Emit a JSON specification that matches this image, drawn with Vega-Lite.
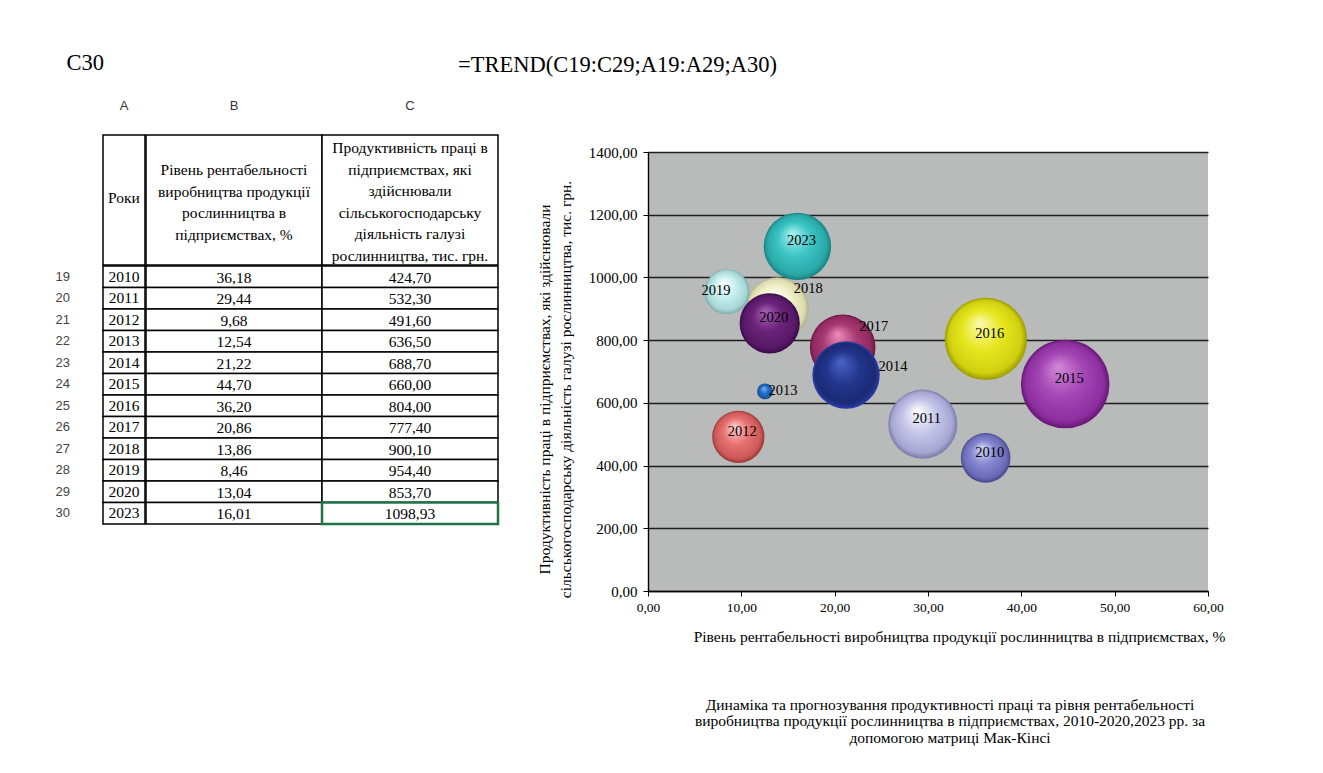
{
  "$schema": "https://vega.github.io/schema/vega-lite/v6.json",
  "padding": {"left": 55, "top": 51, "right": 10, "bottom": 10},
  "background": "white",
  "title": {
    "text": "=TREND(C19:C29;A19:A29;A30)",
    "anchor": "start", "frame": "bounds", "dx": 403, "offset": -36, "baseline": "middle",
    "font": "Liberation Serif", "fontSize": 22.5, "fontWeight": "normal", "color": "#000"
  },
  "config": {
    "view": {"stroke": null},
    "locale": {"number": {"decimal": ",", "thousands": " ", "grouping": [3], "currency": ["", ""]}},
    "text": {"font": "Liberation Serif", "color": "#000"}
  },
  "datasets": {
    "d": [
      {"year": "2010", "rent": 36.18, "prod": 424.70, "v": 31.4, "row": 19},
      {"year": "2011", "rent": 29.44, "prod": 532.30, "v": 60.8, "row": 20},
      {"year": "2012", "rent": 9.68, "prod": 491.60, "v": 34.8, "row": 21},
      {"year": "2013", "rent": 12.54, "prod": 636.50, "v": 3.2, "row": 22},
      {"year": "2014", "rent": 21.22, "prod": 688.70, "v": 57.8, "row": 23},
      {"year": "2015", "rent": 44.70, "prod": 660.00, "v": 100, "row": 24},
      {"year": "2016", "rent": 36.20, "prod": 804.00, "v": 86.5, "row": 25},
      {"year": "2017", "rent": 20.86, "prod": 777.40, "v": 54.8, "row": 26},
      {"year": "2018", "rent": 13.86, "prod": 900.10, "v": 50.4, "row": 27},
      {"year": "2019", "rent": 8.46, "prod": 954.40, "v": 26, "row": 28},
      {"year": "2020", "rent": 13.04, "prod": 853.70, "v": 46.2, "row": 29},
      {"year": "2023", "rent": 16.01, "prod": 1098.93, "v": 57.8, "row": 30}
    ]
  },
  "hconcat": [
    {
      "vconcat": [
        {
          "hconcat": [
            {
              "width": 42, "height": 130,
              "data": {"values": [{"col": "A", "t": "Роки"}]},
              "encoding": {
                "x": {"field": "col", "type": "nominal", "scale": {"paddingInner": 0, "paddingOuter": 0},
                  "axis": {"orient": "top", "domain": false, "ticks": false, "labelAngle": 0, "labelPadding": 23,
                    "labelFont": "Liberation Sans", "labelFontSize": 13, "labelColor": "#333",
                    "title": "C30", "titleX": -37, "titleY": -73, "titleAlign": "left", "titleBaseline": "middle", "titleAngle": 0,
                    "titleFont": "Liberation Serif", "titleFontSize": 22.5, "titleFontWeight": "normal", "titleColor": "#000"}}
              },
              "layer": [
                {"mark": {"type": "rect", "fill": "white", "stroke": "#000", "strokeWidth": 1.5}},
                {"mark": {"type": "text", "fontSize": 15.5, "dy": -2}, "encoding": {"text": {"field": "t"}}}
              ]
            },
            {
              "width": 352, "height": 130,
              "data": {"values": [
                {"col": "B", "t": "Рівень рентабельності\nвиробництва продукції\nрослинництва в\nпідприємствах, %"},
                {"col": "C", "t": "Продуктивність праці в\nпідприємствах, які\nздійснювали\nсільськогосподарську\nдіяльність галузі\nрослинництва, тис. грн."}
              ]},
              "encoding": {
                "x": {"field": "col", "type": "nominal", "scale": {"domain": ["B", "C"], "paddingInner": 0, "paddingOuter": 0},
                  "axis": {"orient": "top", "domain": false, "ticks": false, "labelAngle": 0, "labelPadding": 23,
                    "labelFont": "Liberation Sans", "labelFontSize": 13, "labelColor": "#333", "title": null}}
              },
              "layer": [
                {"mark": {"type": "rect", "fill": "white", "stroke": "#000", "strokeWidth": 1.5}},
                {"transform": [{"filter": "datum.col === 'B'"}],
                 "mark": {"type": "text", "fontSize": 15.5, "lineBreak": "\n", "lineHeight": 21.5, "dy": -30}, "encoding": {"text": {"field": "t"}}},
                {"transform": [{"filter": "datum.col === 'C'"}],
                 "mark": {"type": "text", "fontSize": 15.5, "lineBreak": "\n", "lineHeight": 21.5, "dy": -52}, "encoding": {"text": {"field": "t"}}}
              ]
            }
          ],
          "spacing": -1.5
        },
        {
          "hconcat": [
            {
              "width": 42, "height": 258,
              "data": {"name": "d"},
              "encoding": {
                "y": {"field": "row", "type": "ordinal", "scale": {"paddingInner": 0, "paddingOuter": 0},
                  "axis": {"domain": false, "ticks": false, "labelPadding": 48, "labelAlign": "left", "labelFont": "Liberation Sans", "labelFontSize": 13, "labelColor": "#444", "title": null}}
              },
              "layer": [
                {"mark": {"type": "rect", "fill": "white", "stroke": "#000", "strokeWidth": 1.5}},
                {"mark": {"type": "text", "fontSize": 15.5, "dy": 0}, "encoding": {"text": {"field": "year"}}}
              ]
            },
            {
              "width": 352, "height": 258,
              "data": {"name": "d"},
              "transform": [{"fold": ["rent", "prod"], "as": ["key", "value"]}],
              "encoding": {
                "x": {"field": "key", "type": "nominal", "scale": {"domain": ["rent", "prod"], "paddingInner": 0, "paddingOuter": 0}, "axis": null},
                "y": {"field": "row", "type": "ordinal", "scale": {"paddingInner": 0, "paddingOuter": 0}, "axis": null}
              },
              "layer": [
                {"mark": {"type": "rect", "fill": "white", "stroke": "#000", "strokeWidth": 1.5}},
                {"transform": [{"filter": "datum.row === 30 && datum.key === 'prod'"}],
                 "mark": {"type": "rect", "fill": "white", "stroke": "#217346", "strokeWidth": 2.5}},
                {"mark": {"type": "text", "fontSize": 15.5, "dy": 1}, "encoding": {"text": {"field": "value", "type": "quantitative", "format": ".2f"}}}
              ]
            }
          ],
          "spacing": -1.5
        }
      ],
      "spacing": -1.5
    },
    {
      "vconcat": [
        {
          "width": 560, "height": 1,
          "data": {"values": [{"a": 1}]},
          "mark": {"type": "text", "text": ""},
          "encoding": {}
        },
        {
          "width": 560, "height": 439,
          "view": {"fill": "#b9bbbb", "stroke": null},
          "data": {"name": "d"},
          "title": {
            "text": ["Динаміка та прогнозування продуктивності праці та рівня рентабельності", "виробництва продукції рослинництва  в підприємствах, 2010-2020,2023 рр. за", "допомогою матриці Мак-Кінсі"],
            "orient": "bottom", "anchor": "middle", "dx": 22, "offset": 53,
            "font": "Liberation Serif", "fontSize": 15.5, "fontWeight": "normal", "color": "#000", "lineHeight": 16.5
          },
          "encoding": {
            "x": {"field": "rent", "type": "quantitative", "scale": {"domain": [0, 60], "nice": false},
              "axis": {"values": [0, 10, 20, 30, 40, 50, 60], "format": ".2f", "grid": false,
                "domainColor": "#000", "domainWidth": 1.3, "tickColor": "#000", "tickSize": 5,
                "labelFont": "Liberation Serif", "labelFontSize": 13.5, "labelColor": "#000", "labelPadding": 4, "labelFlush": false,
                "title": "Рівень рентабельності виробництва продукції рослинництва в підприємствах, %",
                "titleFont": "Liberation Serif", "titleFontSize": 15.5, "titleFontWeight": "normal", "titleColor": "#000",
                "titleX": 311, "titleY": 45, "titleBaseline": "middle", "titleAlign": "center"}},
            "y": {"field": "prod", "type": "quantitative", "scale": {"domain": [0, 1400], "nice": false},
              "axis": {"values": [0, 200, 400, 600, 800, 1000, 1200, 1400], "format": ".2f", "grid": true,
                "gridColor": "#1e1e1e", "gridWidth": 1.4, "domainColor": "#000", "domainWidth": 1.4, "tickColor": "#000", "tickSize": 5,
                "labelFont": "Liberation Serif", "labelFontSize": 15, "labelColor": "#000", "labelPadding": 6,
                "title": ["Продуктивність праці в підприємствах, які здійснювали", "сільськогосподарську діяльність галузі рослинництва, тис. грн."],
                "titleFont": "Liberation Serif", "titleFontSize": 15.5, "titleFontWeight": "normal", "titleColor": "#000",
                "titleLineHeight": 21, "titleX": -96, "titleY": 237, "titleAngle": -90, "titleAlign": "center", "titleBaseline": "bottom"}}
          },
          "layer": [
            {"transform": [{"filter": "datum.year === '2010'"}],
             "mark": {"type": "circle", "opacity": 1, "strokeWidth": 0, "fill": {"gradient": "radial", "x1": 0.42, "y1": 0.3, "r1": 0, "x2": 0.5, "y2": 0.5, "r2": 0.5, "stops": [{"offset": 0, "color": "#d8d8f8"}, {"offset": 0.5, "color": "#8585d0"}, {"offset": 0.88, "color": "#6a6ab4"}, {"offset": 1, "color": "#45458a"}]}},
             "encoding": {"size": {"field": "v", "type": "quantitative", "scale": {"type": "linear", "domain": [0, 100], "range": [0, 7854], "zero": true}, "legend": null}}},
            {"transform": [{"filter": "datum.year === '2011'"}],
             "mark": {"type": "circle", "opacity": 1, "strokeWidth": 0, "fill": {"gradient": "radial", "x1": 0.42, "y1": 0.3, "r1": 0, "x2": 0.5, "y2": 0.5, "r2": 0.5, "stops": [{"offset": 0, "color": "#ffffff"}, {"offset": 0.5, "color": "#c4c4ea"}, {"offset": 0.88, "color": "#a6a6d2"}, {"offset": 1, "color": "#7a7aa8"}]}},
             "encoding": {"size": {"field": "v", "type": "quantitative", "scale": {"type": "linear", "domain": [0, 100], "range": [0, 7854], "zero": true}, "legend": null}}},
            {"transform": [{"filter": "datum.year === '2012'"}],
             "mark": {"type": "circle", "opacity": 1, "strokeWidth": 0, "fill": {"gradient": "radial", "x1": 0.42, "y1": 0.3, "r1": 0, "x2": 0.5, "y2": 0.5, "r2": 0.5, "stops": [{"offset": 0, "color": "#ffd0d0"}, {"offset": 0.5, "color": "#e87272"}, {"offset": 0.88, "color": "#cc5858"}, {"offset": 1, "color": "#983434"}]}},
             "encoding": {"size": {"field": "v", "type": "quantitative", "scale": {"type": "linear", "domain": [0, 100], "range": [0, 7854], "zero": true}, "legend": null}}},
            {"transform": [{"filter": "datum.year === '2013'"}],
             "mark": {"type": "circle", "opacity": 1, "strokeWidth": 0, "fill": {"gradient": "radial", "x1": 0.42, "y1": 0.3, "r1": 0, "x2": 0.5, "y2": 0.5, "r2": 0.5, "stops": [{"offset": 0, "color": "#7fb8f0"}, {"offset": 0.5, "color": "#1f6fc6"}, {"offset": 0.88, "color": "#185aa4"}, {"offset": 1, "color": "#0d3d80"}]}},
             "encoding": {"size": {"field": "v", "type": "quantitative", "scale": {"type": "linear", "domain": [0, 100], "range": [0, 7854], "zero": true}, "legend": null}}},
            {"transform": [{"filter": "datum.year === '2016'"}],
             "mark": {"type": "circle", "opacity": 1, "strokeWidth": 0, "fill": {"gradient": "radial", "x1": 0.42, "y1": 0.3, "r1": 0, "x2": 0.5, "y2": 0.5, "r2": 0.5, "stops": [{"offset": 0, "color": "#fbfbb0"}, {"offset": 0.5, "color": "#e6e61e"}, {"offset": 0.88, "color": "#d0d010"}, {"offset": 1, "color": "#9a9a00"}]}},
             "encoding": {"size": {"field": "v", "type": "quantitative", "scale": {"type": "linear", "domain": [0, 100], "range": [0, 7854], "zero": true}, "legend": null}}},
            {"transform": [{"filter": "datum.year === '2015'"}],
             "mark": {"type": "circle", "opacity": 1, "strokeWidth": 0, "fill": {"gradient": "radial", "x1": 0.42, "y1": 0.3, "r1": 0, "x2": 0.5, "y2": 0.5, "r2": 0.5, "stops": [{"offset": 0, "color": "#d28ad8"}, {"offset": 0.5, "color": "#a446b4"}, {"offset": 0.88, "color": "#8e2ea0"}, {"offset": 1, "color": "#661874"}]}},
             "encoding": {"size": {"field": "v", "type": "quantitative", "scale": {"type": "linear", "domain": [0, 100], "range": [0, 7854], "zero": true}, "legend": null}}},
            {"transform": [{"filter": "datum.year === '2017'"}],
             "mark": {"type": "circle", "opacity": 1, "strokeWidth": 0, "fill": {"gradient": "radial", "x1": 0.42, "y1": 0.3, "r1": 0, "x2": 0.5, "y2": 0.5, "r2": 0.5, "stops": [{"offset": 0, "color": "#f08cbc"}, {"offset": 0.5, "color": "#a83a74"}, {"offset": 0.88, "color": "#922a60"}, {"offset": 1, "color": "#661844"}]}},
             "encoding": {"size": {"field": "v", "type": "quantitative", "scale": {"type": "linear", "domain": [0, 100], "range": [0, 7854], "zero": true}, "legend": null}}},
            {"transform": [{"filter": "datum.year === '2014'"}],
             "mark": {"type": "circle", "opacity": 1, "strokeWidth": 0, "fill": {"gradient": "radial", "x1": 0.42, "y1": 0.3, "r1": 0, "x2": 0.5, "y2": 0.5, "r2": 0.5, "stops": [{"offset": 0, "color": "#4a64c4"}, {"offset": 0.5, "color": "#22358c"}, {"offset": 0.88, "color": "#1a2a74"}, {"offset": 1, "color": "#2a3caa"}]}},
             "encoding": {"size": {"field": "v", "type": "quantitative", "scale": {"type": "linear", "domain": [0, 100], "range": [0, 7854], "zero": true}, "legend": null}}},
            {"transform": [{"filter": "datum.year === '2018'"}],
             "mark": {"type": "circle", "opacity": 1, "strokeWidth": 0, "fill": {"gradient": "radial", "x1": 0.42, "y1": 0.3, "r1": 0, "x2": 0.5, "y2": 0.5, "r2": 0.5, "stops": [{"offset": 0, "color": "#ffffff"}, {"offset": 0.5, "color": "#f2f2cc"}, {"offset": 0.88, "color": "#dcdcb0"}, {"offset": 1, "color": "#b0b088"}]}},
             "encoding": {"size": {"field": "v", "type": "quantitative", "scale": {"type": "linear", "domain": [0, 100], "range": [0, 7854], "zero": true}, "legend": null}}},
            {"transform": [{"filter": "datum.year === '2019'"}],
             "mark": {"type": "circle", "opacity": 1, "strokeWidth": 0, "fill": {"gradient": "radial", "x1": 0.42, "y1": 0.3, "r1": 0, "x2": 0.5, "y2": 0.5, "r2": 0.5, "stops": [{"offset": 0, "color": "#ffffff"}, {"offset": 0.5, "color": "#c6eeee"}, {"offset": 0.88, "color": "#a6d4d4"}, {"offset": 1, "color": "#7aaaaa"}]}},
             "encoding": {"size": {"field": "v", "type": "quantitative", "scale": {"type": "linear", "domain": [0, 100], "range": [0, 7854], "zero": true}, "legend": null}}},
            {"transform": [{"filter": "datum.year === '2020'"}],
             "mark": {"type": "circle", "opacity": 1, "strokeWidth": 0, "fill": {"gradient": "radial", "x1": 0.42, "y1": 0.3, "r1": 0, "x2": 0.5, "y2": 0.5, "r2": 0.5, "stops": [{"offset": 0, "color": "#a860b8"}, {"offset": 0.5, "color": "#6a2278"}, {"offset": 0.88, "color": "#561866"}, {"offset": 1, "color": "#380a44"}]}},
             "encoding": {"size": {"field": "v", "type": "quantitative", "scale": {"type": "linear", "domain": [0, 100], "range": [0, 7854], "zero": true}, "legend": null}}},
            {"transform": [{"filter": "datum.year === '2023'"}],
             "mark": {"type": "circle", "opacity": 1, "strokeWidth": 0, "fill": {"gradient": "radial", "x1": 0.42, "y1": 0.3, "r1": 0, "x2": 0.5, "y2": 0.5, "r2": 0.5, "stops": [{"offset": 0, "color": "#a8f0f0"}, {"offset": 0.5, "color": "#3cc4c4"}, {"offset": 0.88, "color": "#2aa8a8"}, {"offset": 1, "color": "#188080"}]}},
             "encoding": {"size": {"field": "v", "type": "quantitative", "scale": {"type": "linear", "domain": [0, 100], "range": [0, 7854], "zero": true}, "legend": null}}},
            {
              "transform": [{"filter": "indexof(['2010','2011','2012','2015','2016','2020','2023'], datum.year) >= 0"}],
              "mark": {"type": "text", "fontSize": 14.5, "dx": 4, "dy": -5},
              "encoding": {"text": {"field": "year"}}
            },
            {
              "transform": [{"filter": "datum.year === '2019'"}],
              "mark": {"type": "text", "fontSize": 14.5, "dx": -11, "dy": -1},
              "encoding": {"text": {"field": "year"}}
            },
            {
              "transform": [{"filter": "datum.year === '2017' || datum.year === '2018'"}],
              "mark": {"type": "text", "fontSize": 14.5, "dx": 31, "dy": -20},
              "encoding": {"text": {"field": "year"}}
            },
            {
              "transform": [{"filter": "datum.year === '2014'"}],
              "mark": {"type": "text", "fontSize": 14.5, "dx": 47, "dy": -8},
              "encoding": {"text": {"field": "year"}}
            },
            {
              "transform": [{"filter": "datum.year === '2013'"}],
              "mark": {"type": "text", "fontSize": 14.5, "dx": 18, "dy": 0},
              "encoding": {"text": {"field": "year"}}
            }
          ]
        }
      ],
      "spacing": 4
    }
  ],
  "spacing": 36
}
